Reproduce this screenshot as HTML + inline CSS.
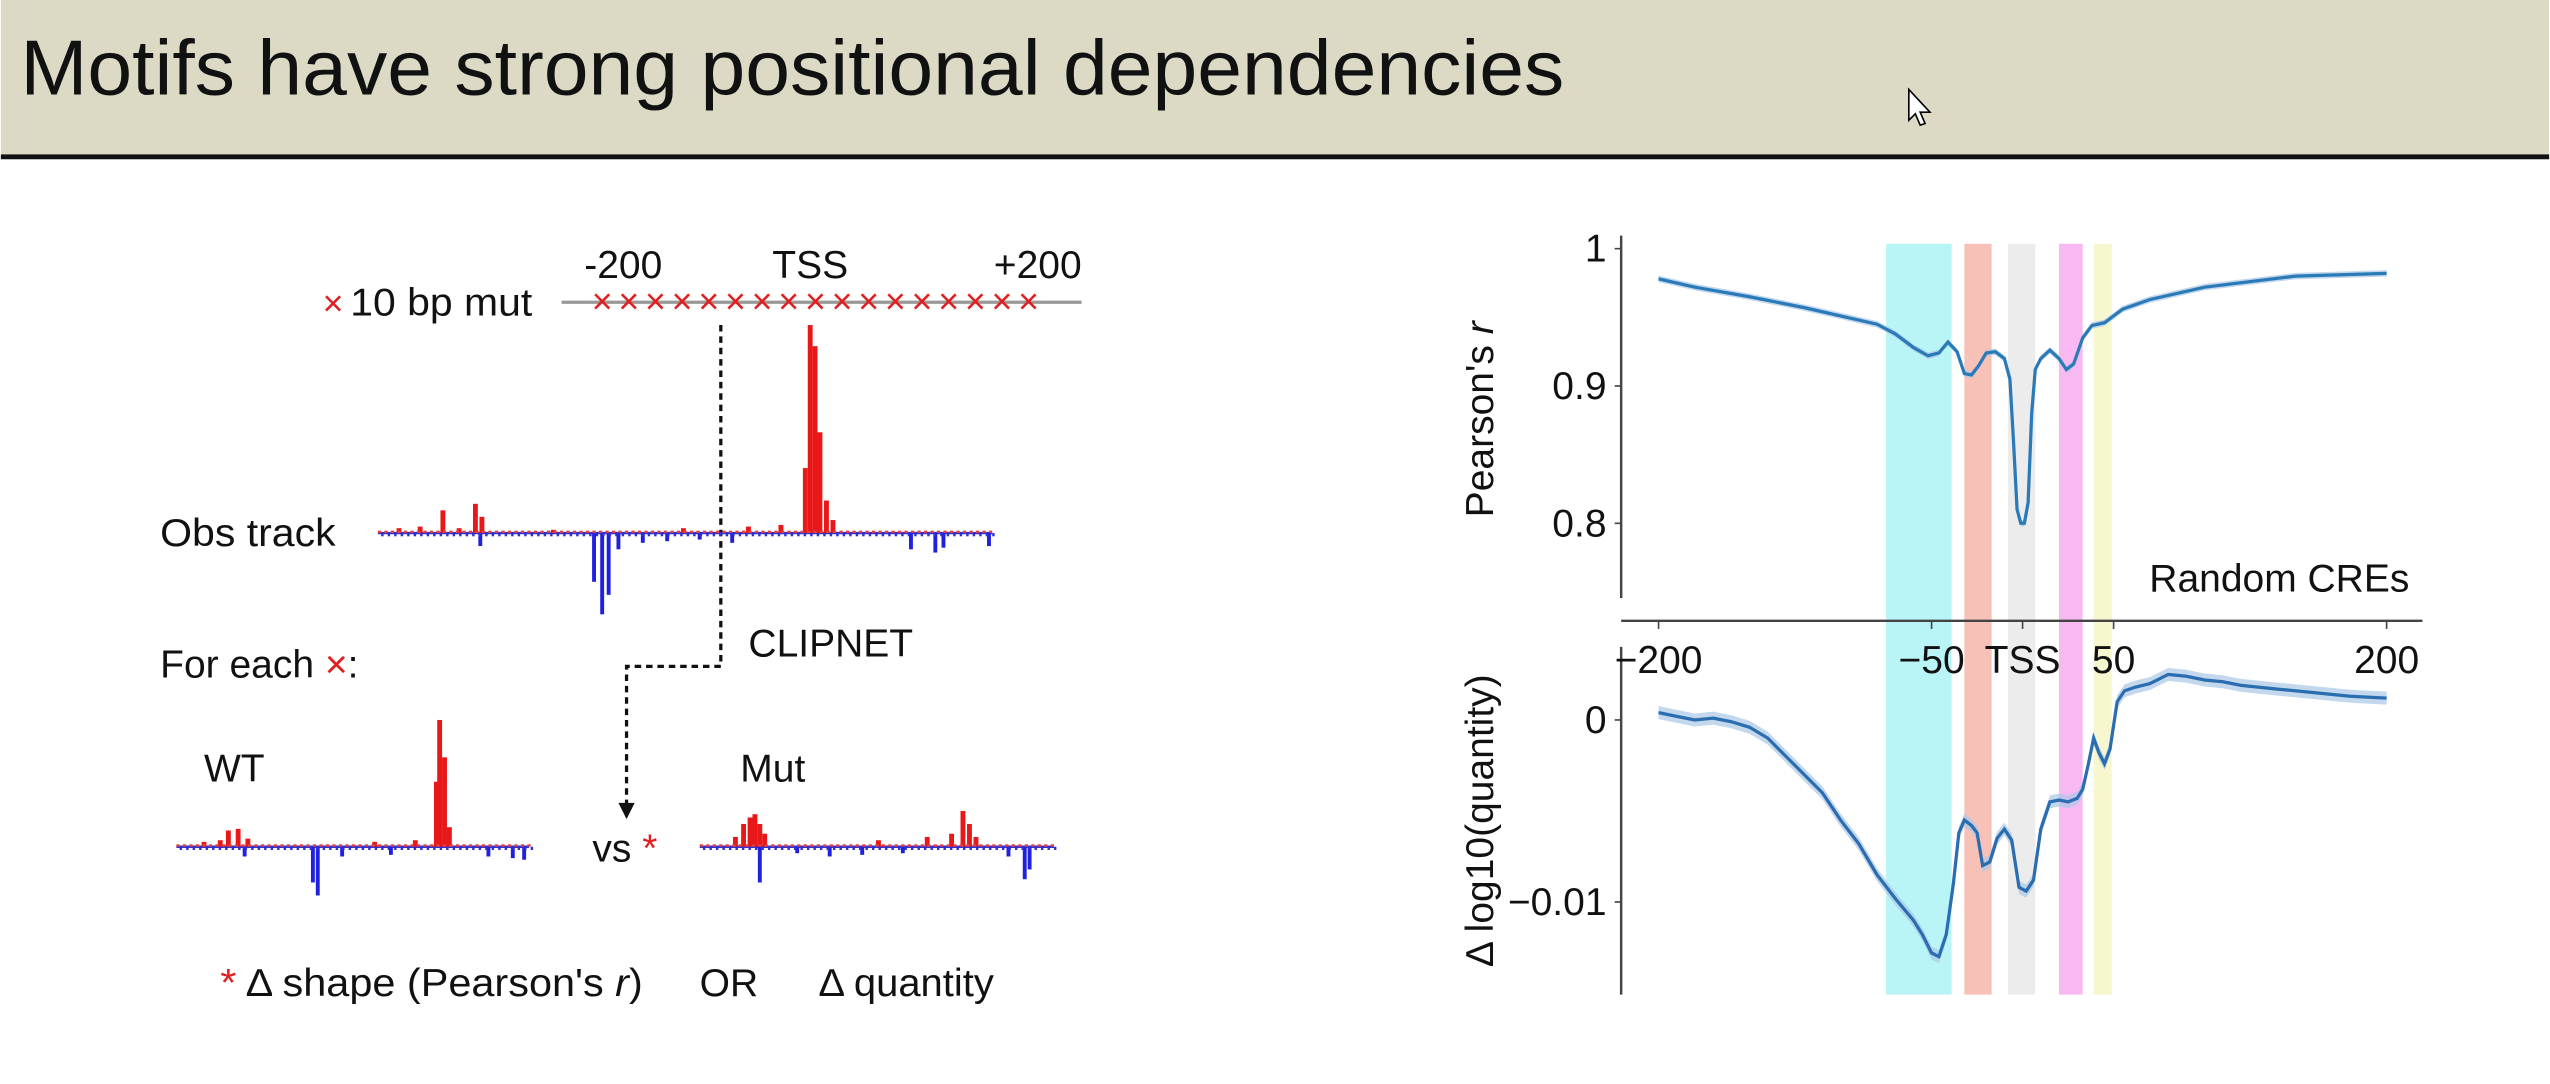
<!DOCTYPE html>
<html><head><meta charset="utf-8">
<style>
html,body{margin:0;padding:0;background:#fff;}
svg{display:block;font-family:"Liberation Sans",Arial,sans-serif;}
</style></head>
<body>
<svg id="s" width="2550" height="1084" viewBox="0 0 1568 667" xmlns="http://www.w3.org/2000/svg">
<rect x="0" y="0" width="1568" height="95" fill="#dcd9c5"/>
<rect x="0" y="95" width="1568" height="3" fill="#111"/>
<text x="12" y="58" font-size="48" fill="#111" textLength="950" lengthAdjust="spacingAndGlyphs">Motifs have strong positional dependencies</text>
<path d="M1174,55 L1174,74 L1178,70 L1181,77 L1184,76 L1181,69 L1187,69 Z" fill="#fff" stroke="#000" stroke-width="1"/>

<g id="left">
<text x="198" y="194" font-size="22" fill="#e02020">×</text>
<text x="215" y="194" font-size="24" fill="#111" textLength="112" lengthAdjust="spacingAndGlyphs">10 bp mut</text>
<line x1="345" y1="186" x2="665" y2="186" stroke="#999" stroke-width="2"/>
<text x="383" y="171" font-size="24" text-anchor="middle" fill="#111">-200</text>
<text x="498" y="171" font-size="24" text-anchor="middle" fill="#111">TSS</text>
<text x="638" y="171" font-size="24" text-anchor="middle" fill="#111">+200</text>
<g id="xmarks"></g>
<path d="M443,200 V410 H385 V496" fill="none" stroke="#111" stroke-width="2" stroke-dasharray="4,3"/>
<path d="M380,494 L385,504 L390,494 Z" fill="#111"/>
<text x="460" y="404" font-size="24" fill="#111">CLIPNET</text>
<text x="98" y="336" font-size="24" fill="#111" textLength="108" lengthAdjust="spacingAndGlyphs">Obs track</text>
<text x="98" y="417" font-size="24" fill="#111">For each <tspan fill="#e02020">×</tspan>:</text>
<text x="125" y="481" font-size="24" fill="#111">WT</text>
<text x="455" y="481" font-size="24" fill="#111">Mut</text>
<text x="364" y="530" font-size="24" fill="#111">vs <tspan fill="#e02020">*</tspan></text>
<g id="tracks"></g>
<text x="135" y="613" font-size="24" fill="#111" textLength="260" lengthAdjust="spacingAndGlyphs"><tspan fill="#e02020">*</tspan> Δ shape (Pearson's <tspan font-style="italic">r</tspan>)</text>
<text x="430" y="613" font-size="24" fill="#111">OR</text>
<text x="503" y="613" font-size="24" fill="#111" textLength="108" lengthAdjust="spacingAndGlyphs">Δ quantity</text>
</g>

<g id="chart"></g>
</svg>
<script>
// ---- chart data ----
const bandStarts = [-75, -32, -8, 20, 39];
const bandEnds = [-39, -17, 7, 33, 49];
const bandColors = ["#b9f5f7", "#f8c1b8", "#ececec", "#f8b9f3", "#f7f7cf"];
const xTickValues = [-200, -50, 0, 50, 200];
const xTickLabels = ["\u2212200", "\u221250", "TSS", "50", "200"];
const topTickValues = [1, 0.9, 0.8];
const topTickLabels = ["1", "0.9", "0.8"];
const botTickValues = [0, -0.01];
const botTickLabels = ["0", "\u22120.01"];
const pearsonPos = [-200,-180,-150,-120,-100,-80,-70,-60,-52,-46,-41,-36,-32,-28,-24,-20,-15,-10,-7,-5,-3,-1,1,3,5,7,10,15,20,24,28,33,38,45,55,70,100,150,200];
const pearsonVal = [0.978,0.972,0.965,0.957,0.951,0.945,0.938,0.928,0.922,0.924,0.932,0.925,0.909,0.908,0.915,0.924,0.925,0.920,0.905,0.860,0.810,0.800,0.800,0.815,0.880,0.912,0.920,0.926,0.920,0.912,0.916,0.935,0.944,0.946,0.956,0.963,0.972,0.980,0.982];
const quantPos = [-200,-190,-180,-170,-160,-150,-140,-130,-120,-110,-100,-90,-80,-70,-60,-55,-50,-46,-42,-38,-35,-32,-28,-25,-22,-18,-14,-10,-6,-2,2,6,10,15,20,25,30,33,36,39,42,45,48,52,56,62,70,80,90,100,110,120,140,160,180,200];
const quantVal = [0.0004,0.0002,0.0000,0.0001,-0.0001,-0.0004,-0.0010,-0.0020,-0.0030,-0.0040,-0.0055,-0.0068,-0.0085,-0.0098,-0.0110,-0.0118,-0.0128,-0.0130,-0.0118,-0.0090,-0.0062,-0.0055,-0.0058,-0.0062,-0.0080,-0.0078,-0.0065,-0.0060,-0.0066,-0.0092,-0.0094,-0.0088,-0.0060,-0.0045,-0.0044,-0.0045,-0.0043,-0.0038,-0.0025,-0.0010,-0.0018,-0.0024,-0.0016,0.0010,0.0016,0.0018,0.0020,0.0025,0.0024,0.0022,0.0021,0.0019,0.0017,0.0015,0.0013,0.0012];

// ---- diagram data ----
const obsUp = [[245,3],[258,4],[272,14],[282,3],[292,18],[296,10],[340,2],[420,3],[460,4],[480,5],[495,40],[498,128],[501,115],[504,62],[508,20],[512,8]];
const obsDown = [[295,8],[365,30],[370,50],[374,38],[380,10],[395,6],[410,5],[430,4],[450,6],[560,10],[575,12],[580,9],[608,8]];
const wtUp = [[125,3],[135,4],[140,10],[146,11],[152,5],[230,3],[255,4],[268,40],[270,78],[273,55],[276,12]];
const wtDown = [[150,6],[192,22],[195,30],[210,6],[240,5],[300,6],[315,7],[322,8]];
const mutUp = [[452,6],[457,14],[461,18],[464,20],[467,14],[470,8],[540,4],[570,6],[585,8],[592,22],[596,14],[600,6]];
const mutDown = [[467,22],[490,4],[510,6],[530,5],[555,4],[620,6],[630,20],[633,14]];

const NS = "http://www.w3.org/2000/svg";
function mk(tag, attrs, parent){ const e=document.createElementNS(NS,tag); for(const k in attrs) e.setAttribute(k,attrs[k]); parent.appendChild(e); return e; }

const xm = document.getElementById('xmarks');
for(let i=0;i<17;i++){
  const t = mk('text',{x:370+i*16.4,y:193,'font-size':22,'text-anchor':'middle',fill:'#e02020'},xm);
  t.textContent='×';
  
  
}
const tg = document.getElementById('tracks');
function track(name,x0,x1,y,up,down){
  const g = mk('g',{},tg);
  
  
  mk('line',{x1:x0,y1:y,x2:x1,y2:y,stroke:'#3030d0','stroke-width':1.5},g);
  up.forEach(([x,h])=>{ mk('rect',{x:x-1.5,y:y-h,width:3,height:h,fill:'#e81818'},g); });
  down.forEach(([x,h])=>{ mk('rect',{x:x-1.2,y:y,width:2.4,height:h,fill:'#2020e0'},g); });
  for(let x=x0;x<x1;x+=4){ mk('rect',{x:x,y:y-1.5,width:2,height:1.5,fill:'#e04040'},g); mk('rect',{x:x+2,y:y,width:1.5,height:2,fill:'#3030d0'},g); }
}
track('obs-track',232,610,328,obsUp,obsDown);
track('wt-track',108,325,521,wtUp,wtDown);
track('mut-track',430,648,521,mutUp,mutDown);

const ch = document.getElementById('chart');
const X = v => 1244 + v*1.12;
const YT = v => 153 + (1-v)*845;
const YB = v => 443 - v*11200;
bandStarts.forEach((s,i)=>{
  const r = mk('rect',{x:X(s),y:150,width:X(bandEnds[i])-X(s),height:462,fill:bandColors[i]},ch);
  
  
});
let a = mk('line',{x1:997,y1:145,x2:997,y2:368,stroke:'#444','stroke-width':1.5},ch);
 
a = mk('line',{x1:997,y1:382,x2:1490,y2:382,stroke:'#444','stroke-width':1.5},ch);
 
a = mk('line',{x1:997,y1:398,x2:997,y2:612,stroke:'#444','stroke-width':1.5},ch);
 
xTickValues.forEach((v,i)=>{
  mk('line',{x1:X(v),y1:382,x2:X(v),y2:387,stroke:'#444','stroke-width':1},ch);
  const t = mk('text',{x:X(v),y:414,'font-size':24,'text-anchor':'middle',fill:'#111'},ch);
  t.textContent = xTickLabels[i];
  
  
});
topTickValues.forEach((v,i)=>{
  mk('line',{x1:993,y1:YT(v),x2:997,y2:YT(v),stroke:'#444','stroke-width':1},ch);
  const t = mk('text',{x:988,y:YT(v)+8,'font-size':24,'text-anchor':'end',fill:'#111'},ch);
  t.textContent = topTickLabels[i];
  
  
});
botTickValues.forEach((v,i)=>{
  mk('line',{x1:993,y1:YB(v),x2:997,y2:YB(v),stroke:'#444','stroke-width':1},ch);
  const t = mk('text',{x:988,y:YB(v)+8,'font-size':24,'text-anchor':'end',fill:'#111'},ch);
  t.textContent = botTickLabels[i];
  
  
});
let t = mk('text',{x:0,y:0,'font-size':24,'text-anchor':'middle',fill:'#111',transform:'translate(918,258) rotate(-90)'},ch);
t.innerHTML = "Pearson's <tspan font-style='italic'>r</tspan>";
 
t = mk('text',{x:0,y:0,'font-size':24,'text-anchor':'middle',fill:'#111',transform:'translate(918,505) rotate(-90)'},ch);
t.textContent = "\u0394 log10(quantity)";
 
t = mk('text',{x:1482,y:364,'font-size':24,'text-anchor':'end',fill:'#111'},ch);
t.textContent = "Random CREs";
 

function linePath(xs, ys, fy){ return xs.map((x,i)=>(i?'L':'M')+X(x).toFixed(1)+','+fy(ys[i]).toFixed(1)).join(' '); }
function bandPath(xs, ys, fy, w){
  const up = xs.map((x,i)=>X(x).toFixed(1)+','+(fy(ys[i])-w).toFixed(1));
  const dn = xs.map((x,i)=>X(x).toFixed(1)+','+(fy(ys[i])+w).toFixed(1)).reverse();
  return 'M'+up.join(' L')+' L'+dn.join(' L')+' Z';
}
let p = mk('path',{d:bandPath(quantPos,quantVal,YB,4),fill:'#a9c8e6',opacity:0.7},ch);
 
p = mk('path',{d:linePath(quantPos,quantVal,YB),fill:'none',stroke:'#2a6db0','stroke-width':2},ch);
 
p = mk('path',{d:bandPath(pearsonPos,pearsonVal,YT,2),fill:'#a9c8e6',opacity:0.7},ch);
 
p = mk('path',{d:linePath(pearsonPos,pearsonVal,YT),fill:'none',stroke:'#2a7ab8','stroke-width':2},ch);
 
</script>
</body></html>
